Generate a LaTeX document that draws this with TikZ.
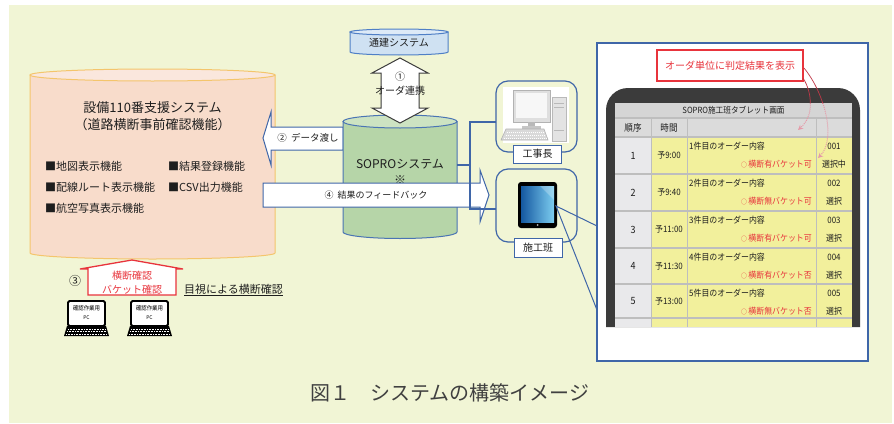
\documentclass[tikz,border=0pt]{standalone}
\usepackage{fontspec}
\setmainfont{Noto Sans CJK JP}
\newfontfamily\condfont{Noto Sans CJK JP}[FakeStretch=0.9]
\usetikzlibrary{arrows.meta}

\definecolor{bgc}{HTML}{F1F5D5}
\definecolor{pinkfill}{HTML}{F8DCCB}
\definecolor{pinktop}{HTML}{FAE7DD}
\definecolor{pinkline}{HTML}{F4C56C}
\definecolor{skyfill}{HTML}{CFE1F2}
\definecolor{skytop}{HTML}{DDEAF7}
\definecolor{skyline}{HTML}{4F7FC6}
\definecolor{grnfill}{HTML}{B6D5A8}
\definecolor{grntop}{HTML}{CDE3C2}
\definecolor{grnline}{HTML}{4A74B4}
\definecolor{boxblue}{HTML}{3F66A8}
\definecolor{txtc}{HTML}{1E1E1E}
\definecolor{alert}{HTML}{E8343C}
\definecolor{framec}{HTML}{3B3B3B}
\definecolor{titlec}{HTML}{D5D5D5}
\definecolor{col1c}{HTML}{E9E9EB}
\definecolor{yelc}{HTML}{F2F09C}
\definecolor{gridc}{HTML}{BEBEBE}
\definecolor{pinkdot}{HTML}{E59AA8}
\definecolor{darkred}{HTML}{C03848}
\definecolor{screenL}{HTML}{1558A0}
\definecolor{screenR}{HTML}{7CCDF0}

\tikzset{
  txt/.style={inner sep=0pt, text=txtc},
  devbox/.style={draw=boxblue, line width=1.2pt, rounded corners=12pt,
    minimum width=81pt, inner sep=0pt},
  devlab/.style={draw=boxblue, fill=white, line width=1pt, minimum width=48pt,
    minimum height=18pt, inner sep=0pt, font=\fontsize{10}{12}\selectfont, text=txtc},
  blockarrow/.style={fill=white, draw=boxblue, line width=1pt, line join=miter},
  conn/.style={draw=boxblue, line width=1.2pt},
  tcell/.style={inner sep=0pt, font=\condfont\fontsize{8.8}{10}\selectfont, text=txtc},
  calloutsolid/.style={draw=darkred, line width=0.7pt},
  calloutdot/.style={draw=pinkdot, line width=1pt, dash pattern=on 1pt off 1pt},
}
\newcommand{\okmark}{{\fontsize{6.5}{7}\selectfont ○}}

\begin{document}
\begin{tikzpicture}[x=1pt, y=-1pt]
\useasboundingbox (0,0) rectangle (894,423);
\fill[bgc] (9,5) rectangle (892,423);

% ---------- support system cylinder ----------
\path[fill=pinkfill, draw=pinkline, line width=1pt]
  (30,75) -- (30,253) arc[start angle=180, end angle=0, x radius=122.5, y radius=6]
  -- (275,75) -- cycle;
\path[fill=pinktop, draw=pinkline, line width=1pt]
  (152.5,75) ellipse[x radius=122.5, y radius=6];
\node[txt, align=center, font=\fontsize{13}{17}\selectfont] (sys110) at (152.5,116)
  {設備110番支援システム\\（道路横断事前確認機能）};
\node[txt, anchor=west, font=\fontsize{11}{13}\selectfont] (f1) at (45,166) {■地図表示機能};
\node[txt, anchor=west, font=\fontsize{11}{13}\selectfont] (f2) at (45,187) {■配線ルート表示機能};
\node[txt, anchor=west, font=\fontsize{11}{13}\selectfont] (f3) at (45,208) {■航空写真表示機能};
\node[txt, anchor=west, font=\fontsize{11}{13}\selectfont] (f4) at (168,166) {■結果登録機能};
\node[txt, anchor=west, font=\fontsize{11}{13}\selectfont] (f5) at (168,187) {■CSV出力機能};

% ---------- upstream system ----------
\path[fill=skyfill, draw=skyline, line width=1pt]
  (350,32) -- (350,52) arc[start angle=180, end angle=0, x radius=49, y radius=3]
  -- (448,32) -- cycle;
\path[fill=skytop, draw=skyline, line width=1pt] (399,32) ellipse[x radius=49, y radius=3];
\node[txt, font=\fontsize{10}{12}\selectfont] (tsuken) at (399,43) {通建システム};

% ---------- arrow 2: data hand-over ----------
\path[blockarrow] (263,138) -- (271,112) -- (271,127) -- (343,127) -- (343,150)
  -- (271,150) -- (271,165) -- cycle;
\node[txt, font=\fontsize{9.5}{11}\selectfont] (a2) at (308,138) {②\ \ データ渡し};

% ---------- SOPRO cylinder ----------
\path[fill=grnfill, draw=grnline, line width=1pt]
  (343,121.5) -- (343,232) arc[start angle=180, end angle=0, x radius=57, y radius=6.5]
  -- (457,121.5) -- cycle;
\path[fill=grntop, draw=grnline, line width=1pt] (400,121.5) ellipse[x radius=57, y radius=6.5];
\node[txt, align=center, font=\fontsize{12}{16}\selectfont] (sopro) at (400,172)
  {SOPROシステム\\※};

% ---------- arrow 1: order link ----------
\path[fill=white, draw=framec, line width=1pt, line join=miter]
  (400,58) -- (428,73) -- (419,73) -- (419,108) -- (428,108) -- (400,123)
  -- (372,108) -- (381,108) -- (381,73) -- (372,73) -- cycle;
\node[txt, align=center, font=\fontsize{10}{14}\selectfont] (a1) at (400,84) {①\\オーダ連携};

% ---------- arrow 4: feedback ----------
\path[blockarrow] (263,183) -- (480,183) -- (480,170) -- (489,195) -- (480,222)
  -- (480,207) -- (263,207) -- cycle;
\node[txt, font=\fontsize{9}{11}\selectfont] (a4) at (376,195) {④\ \ 結果のフィードバック};

% ---------- device boxes ----------
\node[devbox, minimum height=71pt] (kojibox) at (536.5,116.5) {};
\node[devbox, minimum height=73pt] (sekobox) at (536.5,205.5) {};

\coordinate (soproR) at (457,165);
\coordinate (jn) at (470,165);
\coordinate (kin) at (496,122);
\coordinate (sin) at (496,209);
\draw[conn] (soproR) -- (jn);
\draw[conn] (kin) -| (jn) |- (sin);

% desktop computer
\fill[white] (503,87) rectangle (569,143);
\path[fill=gray!22, draw=gray!55, line width=0.6pt] (552,97) rectangle (566,141);
\draw[gray!55, line width=0.5pt] (554,103) -- (564,103) (554,107) -- (564,107) (554,130) -- (564,130);
\path[fill=gray!25, draw=gray!60, line width=0.6pt] (513,90) rectangle (550,122);
\fill[gray!6] (516,93) rectangle (547,118);
\fill[gray!55] (528,122) rectangle (535,127);
\fill[gray!45] (522,126) rectangle (541,129);
\path[fill=gray!30, draw=gray!60, line width=0.6pt] (506,129) -- (544,129) -- (548,140) -- (501,140) -- cycle;
\draw[white, line width=0.9pt, dash pattern=on 1.2pt off 0.8pt]
  (507,132) -- (545,132) (506,135) -- (546,135) (504,138) -- (547,138);

% tablet
\fill[black, rounded corners=3pt] (518,182) rectangle (557,228);
\shade[left color=screenL, right color=screenR] (521,186) rectangle (554,222);
\fill[white, opacity=0.25] (540,186) -- (554,186) -- (554,200) -- cycle;
\fill[gray!60] (537.5,225) circle (1pt);

\node[devlab] (kojilab) at (537.5,154) {工事長};
\node[devlab, minimum height=19pt] (sekolab) at (538,247.5) {施工班};

% ---------- tablet screen panel ----------
\path[fill=white, draw=boxblue, line width=1.2pt] (597,43) rectangle (868,361);
\coordinate (tabR) at (556,206);
\draw[boxblue, line width=1pt] (597,226) -- (tabR) -- (597,310);

% tablet frame
\fill[framec] (606,327) [rounded corners=22pt] -- (606,88) -- (860,88) [sharp corners] -- (860,327) -- cycle;

% table: title and header
\fill[titlec] (615,103) rectangle (852,118);
\node[tcell, font=\condfont\fontsize{8.5}{10}\selectfont] (ttl) at (733.5,110.5) {SOPRO施工班タブレット画面};
\fill[gray!28] (615,118) rectangle (852,137);
\node[tcell, font=\condfont\fontsize{9.5}{11}\selectfont] (h1) at (633,127.5) {順序};
\node[tcell, font=\condfont\fontsize{9.5}{11}\selectfont] (h2) at (669,127.5) {時間};

% table rows
\foreach \i/\yt/\yb/\tm/\st/\code/\sel in {
  1/137/174/予9:00/横断有バケット可/001/選択中,
  2/174/211/予9:40/横断無バケット可/002/選択,
  3/211/248/予11:00/横断有バケット可/003/選択,
  4/248/284/予11:30/横断有バケット否/004/選択,
  5/284/318/予13:00/横断無バケット否/005/選択}{
  \fill[col1c] (615,\yt) rectangle (651,\yb);
  \fill[yelc] (651,\yt) rectangle (852,\yb);
  \node[tcell, font=\condfont\fontsize{10}{11}\selectfont] (num\i) at (633,{(\yt+\yb)/2}) {\i};
  \node[tcell] (tm\i) at (669,{(\yt+\yb)/2}) {\tm};
  \node[tcell, anchor=west] (ct\i) at (689,{\yt+9}) {{\i}件目のオーダー内容};
  \node[tcell, anchor=east, text=alert] (st\i) at (812,{\yt+27}) {\okmark\,\st};
  \node[tcell] (cd\i) at (834,{\yt+9}) {\code};
  \node[tcell] (sl\i) at (834,{\yt+27}) {\sel};
}
\fill[col1c] (615,318) rectangle (651,327);
\fill[yelc] (651,318) rectangle (852,327);

% grid lines
\foreach \yy in {118,137,174,211,248,284,318}
  \draw[gridc, line width=1.8pt] (615,\yy) -- (852,\yy);
\foreach \xx in {651,687,816}
  \draw[gridc, line width=1pt] (\xx,118) -- (\xx,327);

% callout label and pointers
\node[draw=alert, line width=1.8pt, fill=white, minimum width=146pt, minimum height=31pt,
  inner sep=0pt, text=alert, font=\fontsize{10}{12}\selectfont] (hint) at (730,65.5)
  {オーダ単位に判定結果を表示};
\begin{scope}
  \clip (780,40) rectangle (850,103);
  \draw[calloutsolid] (803,78) .. controls (812,92) and (815,115) .. (798,130);
  \draw[calloutsolid] (804,68) .. controls (826,95) and (836,140) .. (818,158);
\end{scope}
\begin{scope}
  \clip (780,103) rectangle (850,170);
  \draw[calloutdot, -{Stealth[length=5pt,width=5pt]}] (803,78) .. controls (812,92) and (815,115) .. (798,130);
  \draw[calloutdot, -{Stealth[length=5pt,width=5pt]}] (804,68) .. controls (826,95) and (836,140) .. (818,158);
\end{scope}

% ---------- step 3: visual crossing check ----------
\path[fill=white, draw=alert, line width=1.3pt, line join=miter]
  (88,295) -- (88,269) -- (80,269) -- (132,260) -- (183,269) -- (176,269) -- (176,295) -- cycle;
\node[inner sep=0pt, align=center, text=alert, font=\fontsize{10}{14}\selectfont] (chk) at (132,283)
  {横断確認\\バケット確認};
\node[txt, font=\fontsize{12}{14}\selectfont] (n3) at (75,281) {③};
\node[txt, anchor=west, font=\fontsize{11}{13}\selectfont] (mokushi) at (184,290)
  {\underline{目視による横断確認}};

% laptops
\foreach \lx/\nm in {65/pcA,128/pcB}{
  \begin{scope}[shift={(\lx,300)}]
    \path[fill=white, draw=black, line width=1.8pt, rounded corners=1.5pt] (3,1) rectangle (40,26);
    \node[inner sep=0pt, font=\condfont\fontsize{6}{6}\selectfont] (\nm t) at (21.5,8) {確認作業用};
    \node[inner sep=0pt, font=\fontsize{5}{6}\selectfont] (\nm p) at (21.5,18) {PC};
    \fill[black] (2,26) -- (41,26) -- (44,36) -- (-1,36) -- cycle;
    \draw[white, line width=0.8pt, dash pattern=on 0.9pt off 0.7pt]
      (3,29) -- (40,29) (2,31.5) -- (41,31.5) (1,34) -- (42,34);
  \end{scope}
}

% ---------- caption ----------
\node[inner sep=0pt, text=txtc!85, font=\fontsize{20}{24}\selectfont] (cap) at (450,393)
  {図１　システムの構築イメージ};
\end{tikzpicture}
\end{document}
